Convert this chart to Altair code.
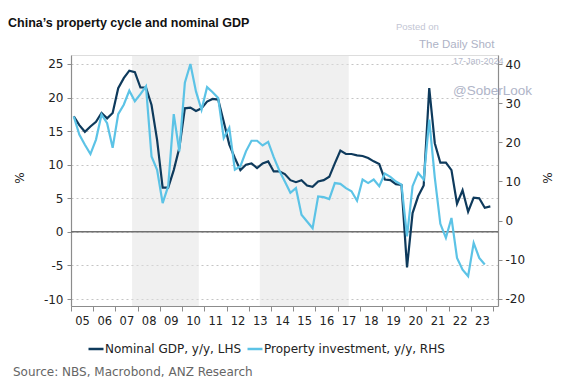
import altair as alt
import pandas as pd

# ---------------- data ----------------
years = list(range(2005, 2024))
quarters = [1, 2, 3, 4]

# Nominal GDP, y/y %, quarterly 2005Q1 - 2023Q4 (left axis)
gdp = [
    17.2, 15.9, 14.9, 15.7,
    16.4, 17.7, 16.9, 17.7,
    21.4, 22.9, 24.0, 23.8,
    21.5, 21.5, 18.9, 13.7,
    6.6, 6.6, 9.2, 12.5,
    18.4, 18.5, 18.0, 18.4,
    19.4, 19.8, 19.7, 16.4,
    13.0, 11.0, 9.2, 10.0,
    10.2, 9.5, 10.2, 10.5,
    9.0, 9.0, 8.6, 7.7,
    7.4, 7.7, 6.9, 6.7,
    7.5, 7.7, 8.2, 10.2,
    12.1, 11.6, 11.6, 11.4,
    11.3, 11.0, 10.5, 10.1,
    7.8, 7.7, 7.1, 7.0,
    -5.3, 2.8, 5.3, 6.9,
    21.4, 13.2, 10.3, 10.3,
    9.2, 4.2, 6.2, 3.0,
    5.1, 5.0, 3.6, 3.8,
]

# Property investment, y/y %, quarterly 2005Q1 - 2023Q3 (right axis)
prop = [
    26.6, 22.0, 19.4, 17.0,
    20.7, 27.1, 24.9, 18.6,
    27.2, 29.6, 33.2, 30.5,
    32.3, 34.3, 16.4, 13.0,
    4.5, 8.8, 27.2, 17.7,
    35.2, 40.0, 33.0, 28.3,
    34.1, 32.8, 31.3, 21.1,
    23.7, 13.0, 13.9, 17.7,
    20.4, 20.4, 19.2, 20.1,
    16.2, 12.8, 10.0, 7.1,
    8.3, 1.5, -0.2, -1.9,
    6.2, 6.0, 5.5, 9.6,
    9.4, 8.3, 7.5, 5.1,
    10.5, 9.6, 10.5, 8.8,
    12.0, 11.2, 10.0, 9.2,
    -4.0, 8.8, 12.2, 10.5,
    25.8, 11.0, -0.8, -4.4,
    0.7, -9.5, -12.5, -14.2,
    -5.7, -9.5, -11.2,
]

series_names = ["Nominal GDP, y/y, LHS", "Property investment, y/y, RHS"]
series_colors = ["#0e3a5c", "#5cc3e6"]

shade_start = [2007.75, 2013.5]
shade_end = [2010.75, 2017.5]

x_ticks = list(range(2005, 2025))
left_ticks = [-10, -5, 0, 5, 10, 15, 20, 25]
right_ticks = [-20, -10, 0, 10, 20, 30, 40]

# ---------------- tables ----------------
t = [y + (q - 0.5) / 4 for y in years for q in quarters]
df_gdp = pd.DataFrame({"t": t[:len(gdp)], "v": gdp, "s": series_names[0]})
df_prop = pd.DataFrame({"t": t[:len(prop)], "v": prop, "s": series_names[1]})
df_shade = pd.DataFrame({"start": shade_start, "end": shade_end})
df_zero = pd.DataFrame({"v": [0]})
one = pd.DataFrame({"a": [0]})

FONT = "DejaVu Sans"
AXIS_COL = "#8c8c8c"
LABEL_COL = "#222222"

x_scale = alt.Scale(domain=[2005, 2024.22], nice=False, zero=False)
x_axis = alt.Axis(
    values=x_ticks, title=None, grid=False,
    labelExpr="datum.value < 2024 ? format(datum.value % 100, '02d') : ''",
    labelOffset=11, labelFlush=False, labelOverlap=False,
    tickSize=5, tickColor=AXIS_COL, domainColor=AXIS_COL, domainWidth=1.2,
    labelFont=FONT, labelFontSize=11.5, labelColor=LABEL_COL, labelPadding=4,
)
left_scale = alt.Scale(domain=[-11.04, 26.34], nice=False, zero=False)
left_axis = alt.Axis(
    orient="left", values=left_ticks, title=None, grid=True,
    gridDash=[2, 3], gridColor="#c4c4c4", gridWidth=1,
    labelExpr="toString(datum.value)",
    tickSize=4, tickColor=AXIS_COL, domainColor=AXIS_COL, domainWidth=1.2,
    labelFont=FONT, labelFontSize=12, labelColor=LABEL_COL, labelPadding=4,
)
right_scale = alt.Scale(domain=[-21.79, 42.3], nice=False, zero=False)
right_axis = alt.Axis(
    orient="right", values=right_ticks, title=None, grid=False,
    labelExpr="toString(datum.value)",
    tickSize=4, tickColor=AXIS_COL, domainColor=AXIS_COL, domainWidth=1.2,
    labelFont=FONT, labelFontSize=12, labelColor=LABEL_COL, labelPadding=3,
)

color_enc = alt.Color(
    "s:N",
    scale=alt.Scale(domain=series_names, range=series_colors),
    legend=alt.Legend(
        title=None, orient="none", legendX=16, legendY=285, direction="horizontal",
        symbolType="stroke", symbolStrokeWidth=2.5, symbolSize=225,
        labelFont=FONT, labelFontSize=12, labelColor=LABEL_COL, labelLimit=400,
        columnPadding=0, labelOffset=0, padding=0,
    ),
)

shade = alt.Chart(df_shade).mark_rect(color="#e2e2e2", opacity=0.5).encode(
    x=alt.X("start:Q", scale=x_scale, axis=x_axis), x2="end:Q"
)
zero = alt.Chart(df_zero).mark_rule(color="#707070", strokeWidth=1.5).encode(
    y=alt.Y("v:Q", scale=left_scale, axis=left_axis)
)
gdp_line = alt.Chart(df_gdp).mark_line(strokeWidth=2.2).encode(
    x=alt.X("t:Q", scale=x_scale, axis=x_axis),
    y=alt.Y("v:Q", scale=left_scale, axis=left_axis),
    color=color_enc,
)
prop_line = alt.Chart(df_prop).mark_line(strokeWidth=2.2).encode(
    x=alt.X("t:Q", scale=x_scale, axis=x_axis),
    y=alt.Y("v:Q", scale=right_scale, axis=right_axis),
    color=color_enc,
)


def label(text, x, y, size, color, weight="normal", font=FONT, angle=0,
          align="left", baseline="alphabetic"):
    return alt.Chart(one).mark_text(
        text=text, fontSize=size, color=color, fontWeight=weight, font=font,
        angle=angle, align=align, baseline=baseline,
    ).encode(x=alt.value(x), y=alt.value(y))


texts = [
    label("China\u2019s property cycle and nominal GDP", -63, -28, 12.5, "#111111",
          weight="bold", font="Liberation Sans"),
    label("Posted on", 325, -25, 9.5, "#c3c6d4", font="Liberation Sans"),
    label("The Daily Shot", 348, -7.5, 11.5, "#aeb3c6", font="Liberation Sans"),
    label("17-Jan-2024", 382, 9, 9, "#b4b8ca", font="Liberation Sans"),
    label("@SoberLook", 382, 39.5, 13.5, "#b0b5c8", font="Liberation Sans"),
    label("%", -51, 123, 12, LABEL_COL, angle=270, align="center", baseline="middle"),
    label("%", 477, 123, 12, LABEL_COL, angle=270, align="center", baseline="middle"),
    label("Source: NBS, Macrobond, ANZ Research", -58, 321, 12, "#666666"),
]

left = alt.layer(shade, zero, gdp_line)
chart = alt.layer(left, prop_line, *texts).resolve_scale(y="independent").properties(
    width=427, height=251,
    autosize=alt.AutoSizeParams(type="none"),
    padding={"left": 63, "top": 47, "right": 58, "bottom": 72},
).configure_view(stroke=None).configure(font=FONT, background="white")

chart.save("out.html", embed_options={"renderer": "svg", "actions": False})
